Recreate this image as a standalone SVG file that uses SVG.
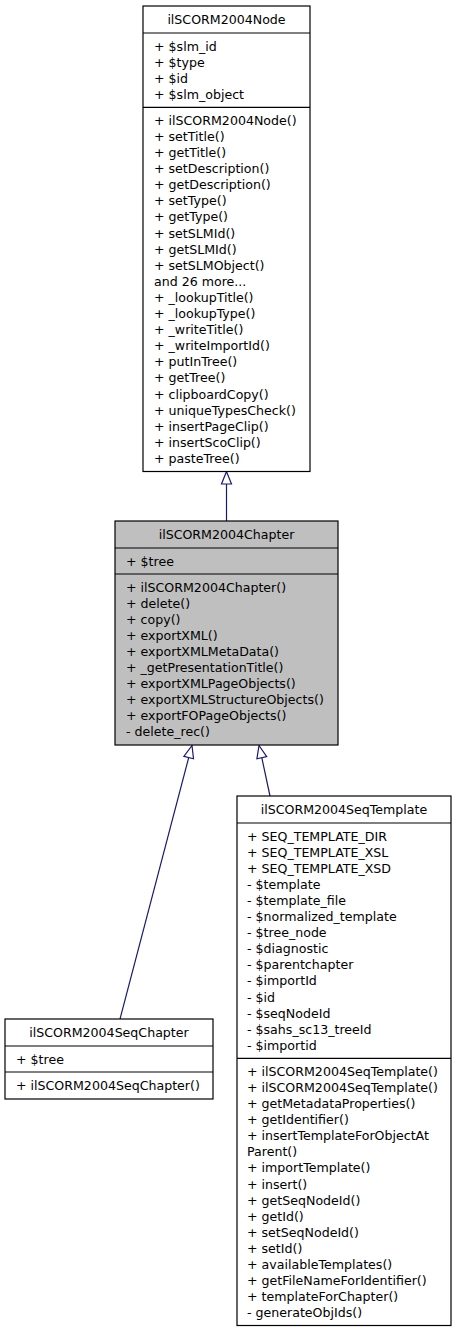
<svg xmlns="http://www.w3.org/2000/svg" width="456" height="1331" viewBox="0 0 456 1331">
<style>
text{font-family:"DejaVu Sans","Liberation Sans",sans-serif;font-size:12.6px;fill:#000}
.t{text-anchor:middle}
.box{fill:#fff;stroke:#000;stroke-width:1.2}
.gray{fill:#bfbfbf}
.sep{stroke:#000;stroke-width:1.2}
.edge{fill:none;stroke:#191970;stroke-width:1.2}
.head{fill:#fff;stroke:#191970;stroke-width:1.2}
</style>
<rect width="456" height="1331" fill="#fff"/>
<g id="connectors">
<line class="edge" x1="226.5" y1="521" x2="226.5" y2="484"/>
<polygon class="head" points="226.5,471.5 221.5,484 231.5,484"/>
<line class="edge" x1="120" y1="1019" x2="188.7" y2="757.6"/>
<polygon class="head" points="192,745.5 193.5,758.8 183.9,756.3"/>
<line class="edge" x1="270" y1="796" x2="261.8" y2="757.7"/>
<polygon class="head" points="259,745.5 266.7,756.6 256.9,758.8"/>
</g>
<g id="ilSCORM2004Node">
<rect class="box" x="143" y="6" width="167" height="465.5"/>
<line class="sep" x1="143" y1="33" x2="310" y2="33"/>
<line class="sep" x1="143" y1="107.3" x2="310" y2="107.3"/>
<text class="t" x="226.5" y="24">ilSCORM2004Node</text>
<text x="154" y="50.5"><tspan x="154">+ $slm_id</tspan><tspan x="154" dy="16.1">+ $type</tspan><tspan x="154" dy="16.1">+ $id</tspan><tspan x="154" dy="16.1">+ $slm_object</tspan></text>
<text x="154" y="124.8"><tspan x="154">+ ilSCORM2004Node()</tspan><tspan x="154" dy="16.1">+ setTitle()</tspan><tspan x="154" dy="16.1">+ getTitle()</tspan><tspan x="154" dy="16.1">+ setDescription()</tspan><tspan x="154" dy="16.1">+ getDescription()</tspan><tspan x="154" dy="16.1">+ setType()</tspan><tspan x="154" dy="16.1">+ getType()</tspan><tspan x="154" dy="16.1">+ setSLMId()</tspan><tspan x="154" dy="16.1">+ getSLMId()</tspan><tspan x="154" dy="16.1">+ setSLMObject()</tspan><tspan x="154" dy="16.1">and 26 more...</tspan><tspan x="154" dy="16.1">+ _lookupTitle()</tspan><tspan x="154" dy="16.1">+ _lookupType()</tspan><tspan x="154" dy="16.1">+ _writeTitle()</tspan><tspan x="154" dy="16.1">+ _writeImportId()</tspan><tspan x="154" dy="16.1">+ putInTree()</tspan><tspan x="154" dy="16.1">+ getTree()</tspan><tspan x="154" dy="16.1">+ clipboardCopy()</tspan><tspan x="154" dy="16.1">+ uniqueTypesCheck()</tspan><tspan x="154" dy="16.1">+ insertPageClip()</tspan><tspan x="154" dy="16.1">+ insertScoClip()</tspan><tspan x="154" dy="16.1">+ pasteTree()</tspan></text>
</g>
<g id="ilSCORM2004Chapter">
<rect class="box gray" x="115" y="521" width="223" height="224"/>
<line class="sep" x1="115" y1="548" x2="338" y2="548"/>
<line class="sep" x1="115" y1="574" x2="338" y2="574"/>
<text class="t" x="226.5" y="539">ilSCORM2004Chapter</text>
<text x="126" y="565.5">+ $tree</text>
<text x="126" y="591.5"><tspan x="126">+ ilSCORM2004Chapter()</tspan><tspan x="126" dy="16.1">+ delete()</tspan><tspan x="126" dy="16.1">+ copy()</tspan><tspan x="126" dy="16.1">+ exportXML()</tspan><tspan x="126" dy="16.1">+ exportXMLMetaData()</tspan><tspan x="126" dy="16.1">+ _getPresentationTitle()</tspan><tspan x="126" dy="16.1">+ exportXMLPageObjects()</tspan><tspan x="126" dy="16.1">+ exportXMLStructureObjects()</tspan><tspan x="126" dy="16.1">+ exportFOPageObjects()</tspan><tspan x="126" dy="16.1">- delete_rec()</tspan></text>
</g>
<g id="ilSCORM2004SeqChapter">
<rect class="box" x="5" y="1019" width="208" height="80"/>
<line class="sep" x1="5" y1="1046" x2="213" y2="1046"/>
<line class="sep" x1="5" y1="1072" x2="213" y2="1072"/>
<text class="t" x="109" y="1037">ilSCORM2004SeqChapter</text>
<text x="16" y="1063.5">+ $tree</text>
<text x="16" y="1089.5">+ ilSCORM2004SeqChapter()</text>
</g>
<g id="ilSCORM2004SeqTemplate">
<rect class="box" x="237" y="796" width="214" height="529.5"/>
<line class="sep" x1="237" y1="823" x2="451" y2="823"/>
<line class="sep" x1="237" y1="1058.3" x2="451" y2="1058.3"/>
<text class="t" x="344" y="814">ilSCORM2004SeqTemplate</text>
<text x="247" y="840.5"><tspan x="247">+ SEQ_TEMPLATE_DIR</tspan><tspan x="247" dy="16.1">+ SEQ_TEMPLATE_XSL</tspan><tspan x="247" dy="16.1">+ SEQ_TEMPLATE_XSD</tspan><tspan x="247" dy="16.1">- $template</tspan><tspan x="247" dy="16.1">- $template_file</tspan><tspan x="247" dy="16.1">- $normalized_template</tspan><tspan x="247" dy="16.1">- $tree_node</tspan><tspan x="247" dy="16.1">- $diagnostic</tspan><tspan x="247" dy="16.1">- $parentchapter</tspan><tspan x="247" dy="16.1">- $importId</tspan><tspan x="247" dy="16.1">- $id</tspan><tspan x="247" dy="16.1">- $seqNodeId</tspan><tspan x="247" dy="16.1">- $sahs_sc13_treeId</tspan><tspan x="247" dy="16.1">- $importid</tspan></text>
<text x="247" y="1075.8"><tspan x="247">+ ilSCORM2004SeqTemplate()</tspan><tspan x="247" dy="16.1">+ ilSCORM2004SeqTemplate()</tspan><tspan x="247" dy="16.1">+ getMetadataProperties()</tspan><tspan x="247" dy="16.1">+ getIdentifier()</tspan><tspan x="247" dy="16.1">+ insertTemplateForObjectAt</tspan><tspan x="247" dy="16.1">Parent()</tspan><tspan x="247" dy="16.1">+ importTemplate()</tspan><tspan x="247" dy="16.1">+ insert()</tspan><tspan x="247" dy="16.1">+ getSeqNodeId()</tspan><tspan x="247" dy="16.1">+ getId()</tspan><tspan x="247" dy="16.1">+ setSeqNodeId()</tspan><tspan x="247" dy="16.1">+ setId()</tspan><tspan x="247" dy="16.1">+ availableTemplates()</tspan><tspan x="247" dy="16.1">+ getFileNameForIdentifier()</tspan><tspan x="247" dy="16.1">+ templateForChapter()</tspan><tspan x="247" dy="16.1">- generateObjIds()</tspan></text>
</g>
</svg>
